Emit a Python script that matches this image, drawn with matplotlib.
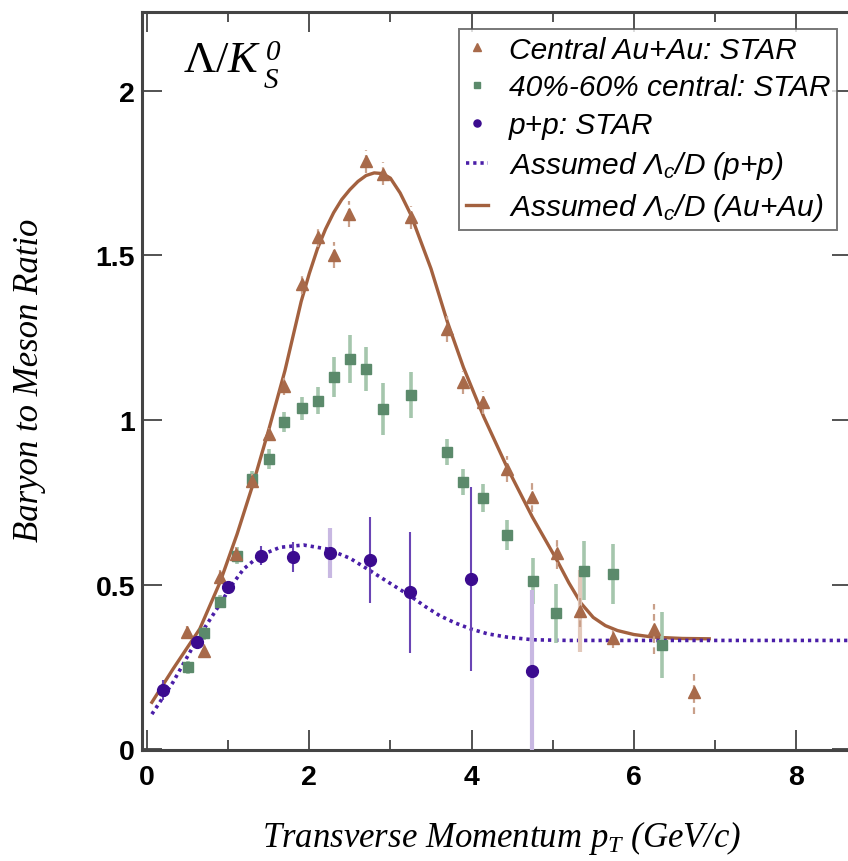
import numpy as np
import matplotlib
matplotlib.use("Agg")
import matplotlib.pyplot as plt
from matplotlib.ticker import MultipleLocator

# ---- data ----
auau_pt = [0.49, 0.70, 0.90, 1.10, 1.30, 1.50, 1.69, 1.91, 2.11, 2.31, 2.49, 2.70,
           2.91, 3.25, 3.70, 3.89, 4.14, 4.44, 4.74, 5.05, 5.34, 5.75, 6.25, 6.74]
auau_ratio = [0.355, 0.299, 0.523, 0.593, 0.815, 0.957, 1.102, 1.413, 1.555, 1.502, 1.626, 1.786,
              1.748, 1.616, 1.277, 1.115, 1.054, 0.851, 0.765, 0.596, 0.420, 0.336, 0.365, 0.172]
auau_err = [0.02, 0.02, 0.02, 0.02, 0.02, 0.02, 0.025, 0.03, 0.03, 0.04, 0.04, 0.035,
            0.035, 0.035, 0.04, 0.035, 0.035, 0.04, 0.045, 0.05, 0.05, 0.03, 0.075, 0.065]
auau_sys = [0, 0, 0, 0, 0, 0, 0, 0, 0, 0, 0, 0,
            0, 0, 0, 0, 0, 0, 0, 0, 0.125, 0, 0, 0]

mid_pt = [0.51, 0.70, 0.90, 1.11, 1.30, 1.50, 1.69, 1.91, 2.11, 2.31, 2.50, 2.70,
          2.91, 3.25, 3.70, 3.89, 4.14, 4.44, 4.76, 5.04, 5.39, 5.75, 6.35]
mid_ratio = [0.248, 0.352, 0.448, 0.588, 0.821, 0.881, 0.995, 1.036, 1.059, 1.130, 1.185, 1.155,
             1.033, 1.076, 0.902, 0.812, 0.762, 0.650, 0.512, 0.412, 0.542, 0.532, 0.316]
mid_err = [0.02, 0.02, 0.02, 0.025, 0.025, 0.03, 0.03, 0.035, 0.04, 0.06, 0.074, 0.068,
           0.08, 0.07, 0.04, 0.04, 0.043, 0.045, 0.07, 0.09, 0.09, 0.09, 0.10]

pp_pt = [0.20, 0.61, 1.00, 1.41, 1.80, 2.25, 2.75, 3.24, 3.99, 4.75]
pp_ratio = [0.180, 0.324, 0.491, 0.588, 0.583, 0.595, 0.575, 0.476, 0.517, 0.238]
pp_stat = [0.03, 0.02, 0.02, 0.03, 0.046, 0, 0.13, 0.185, 0.28, 0]
pp_sys = [0, 0, 0, 0, 0, 0.076, 0, 0, 0, 0.245]

# assumed Lambda_c/D curves (traced points)
auau_curve_pt = [0.06, 0.32, 0.65, 0.90, 1.11, 1.30, 1.50, 1.70, 1.90, 2.00, 2.10, 2.20,
                 2.30, 2.40, 2.50, 2.60, 2.70, 2.80, 2.90, 3.00, 3.12, 3.25, 3.50, 3.70,
                 3.90, 4.15, 4.44, 4.75, 5.05, 5.20, 5.35, 5.50, 5.65, 5.80, 6.00, 6.24,
                 6.60, 6.93]
auau_curve = [0.142, 0.243, 0.365, 0.507, 0.653, 0.80, 0.97, 1.15, 1.36, 1.445, 1.52, 1.58,
              1.63, 1.67, 1.70, 1.725, 1.743, 1.751, 1.749, 1.735, 1.69, 1.625, 1.46, 1.30,
              1.16, 1.01, 0.855, 0.705, 0.575, 0.505, 0.443, 0.400, 0.375, 0.360, 0.348, 0.340,
              0.336, 0.335]

pp_curve_pt = [0.06, 0.32, 0.61, 0.90, 1.05, 1.19, 1.39, 1.64, 1.93, 2.22, 2.50, 2.75,
               3.00, 3.24, 3.43, 3.61, 3.80, 3.99, 4.20, 4.44, 4.76, 5.20, 6.00, 8.70]
pp_curve = [0.106, 0.203, 0.330, 0.441, 0.500, 0.547, 0.588, 0.613, 0.620, 0.608, 0.580, 0.542,
            0.503, 0.466, 0.433, 0.405, 0.383, 0.365, 0.350, 0.340, 0.332, 0.330, 0.330, 0.330]

# ---- style ----
plt.rcParams["mathtext.fontset"] = "custom"
plt.rcParams["mathtext.rm"] = "Liberation Serif"
plt.rcParams["mathtext.it"] = "Liberation Serif:italic"
plt.rcParams["mathtext.sf"] = "Liberation Sans:italic"

brown = "#a3613f"
brown_pt = "#a86a4a"
brown_err = "#c9a08a"
green = "#5b8a6b"
green_err = "#a5c6ad"
purple = "#3b0b8f"
purple_line = "#4a1ea8"
purple_light = "#c8b8e2"
spine_col = "#444444"

fig = plt.figure(figsize=(8.48, 8.62), dpi=100)
ax = fig.add_axes([142 / 848, 111 / 862, 710 / 848, 738 / 862])

# curves
ax.plot(auau_curve_pt, auau_curve, color=brown, lw=2.4, zorder=2, solid_joinstyle="round",
        label=r"Assumed $\mathsf{\Lambda_c}$/D (Au+Au)")
ax.plot(pp_curve_pt, pp_curve, color=purple_line, lw=2.6, ls=(0, (0.9, 1.1)), zorder=3,
        label=r"Assumed $\mathsf{\Lambda_c}$/D (p+p)")

# 40-60% central squares
ax.errorbar(mid_pt, mid_ratio, yerr=mid_err, fmt="none", ecolor=green_err, elinewidth=2.6, zorder=4)
ax.plot(mid_pt, mid_ratio, "s", color=green, ms=7, zorder=5, label="40%-60% central: STAR")

# central Au+Au triangles
ax.errorbar(auau_pt, auau_ratio, yerr=auau_sys, fmt="none", ecolor="#e3c9bb", elinewidth=3, zorder=4)
eb = ax.errorbar(auau_pt, auau_ratio, yerr=auau_err, fmt="none", ecolor=brown_err, elinewidth=1.6, zorder=5)
eb[2][0].set_linestyle((0, (3, 2)))
ax.plot(auau_pt, auau_ratio, "^", color=brown_pt, ms=8.5, zorder=6, label="Central Au+Au: STAR")

# p+p circles
ax.errorbar(pp_pt, pp_ratio, yerr=pp_sys, fmt="none", ecolor=purple_light, elinewidth=3, zorder=4)
ax.errorbar(pp_pt, pp_ratio, yerr=pp_stat, fmt="none", ecolor="#6a45b5", elinewidth=1.5, zorder=5)
ax.plot(pp_pt, pp_ratio, "o", color=purple, ms=8.5, zorder=6, label="p+p: STAR")

ax.set_xlim(-0.062, 8.69)
ax.set_ylim(-0.003, 2.24)
ax.xaxis.set_major_locator(MultipleLocator(2))
ax.xaxis.set_minor_locator(MultipleLocator(1))
ax.yaxis.set_major_locator(MultipleLocator(0.5))
ax.yaxis.set_minor_locator(MultipleLocator(0.5))
ax.tick_params(which="both", direction="in", top=True, right=True, color=spine_col, width=1.3)
ax.tick_params(which="major", length=14.5)
ax.tick_params(which="minor", length=7)
ax.tick_params(axis="y", which="minor", length=0)
ax.tick_params(axis="x", pad=10)
ax.tick_params(axis="y", pad=5)
for lab in ax.get_xticklabels() + ax.get_yticklabels():
    lab.set_fontfamily("Liberation Sans")
    lab.set_fontweight("bold")
    lab.set_fontsize(20.5)
ax.xaxis.set_major_formatter(plt.FuncFormatter(lambda v, p: f"{v:g}"))
ax.yaxis.set_major_formatter(plt.FuncFormatter(lambda v, p: f"{v:g}"))
for sp in ax.spines.values():
    sp.set_color(spine_col)
    sp.set_linewidth(2.2)

# legend
handles, labels = ax.get_legend_handles_labels()
order = [labels.index(s) for s in ["Central Au+Au: STAR", "40%-60% central: STAR", "p+p: STAR",
                                   r"Assumed $\mathsf{\Lambda_c}$/D (p+p)",
                                   r"Assumed $\mathsf{\Lambda_c}$/D (Au+Au)"]]
leg = ax.legend([handles[i] for i in order], [labels[i] for i in order],
                loc="upper right", bbox_to_anchor=(837 / 848, 1 - 30 / 862),
                bbox_transform=fig.transFigure, frameon=True, fancybox=False,
                prop={"family": "Liberation Sans", "style": "italic", "size": 21.5},
                handlelength=0.75, handletextpad=0.7, borderpad=0.22, labelspacing=0.33,
                markerscale=0.6, borderaxespad=0)
leg.get_frame().set_edgecolor("#555555")
leg.get_frame().set_linewidth(1.4)

# title-like label inside plot: Lambda / K, with 0 above and S below
fig.text(183 / 848, 1 - 72 / 862, r"$\Lambda/\mathit{K}$", fontsize=32, ha="left", va="baseline")
fig.text(266 / 848, 1 - 60 / 862, "0", family="Liberation Serif", style="italic",
         fontsize=21, ha="left", va="baseline")
fig.text(264 / 848, 1 - 88 / 862, "S", family="Liberation Serif", style="italic",
         fontsize=21, ha="left", va="baseline")

# axis labels
fig.text(30 / 848, 1 - 380 / 862, "Baryon to Meson Ratio", rotation=90,
         family="Liberation Serif", style="italic", fontsize=25, ha="center", va="center")
fig.text(502 / 848, 1 - 838 / 862, r"Transverse Momentum $p_T$ (GeV/c)",
         family="Liberation Serif", style="italic", fontsize=25, ha="center", va="center")

fig.savefig("out.png", dpi=100)
